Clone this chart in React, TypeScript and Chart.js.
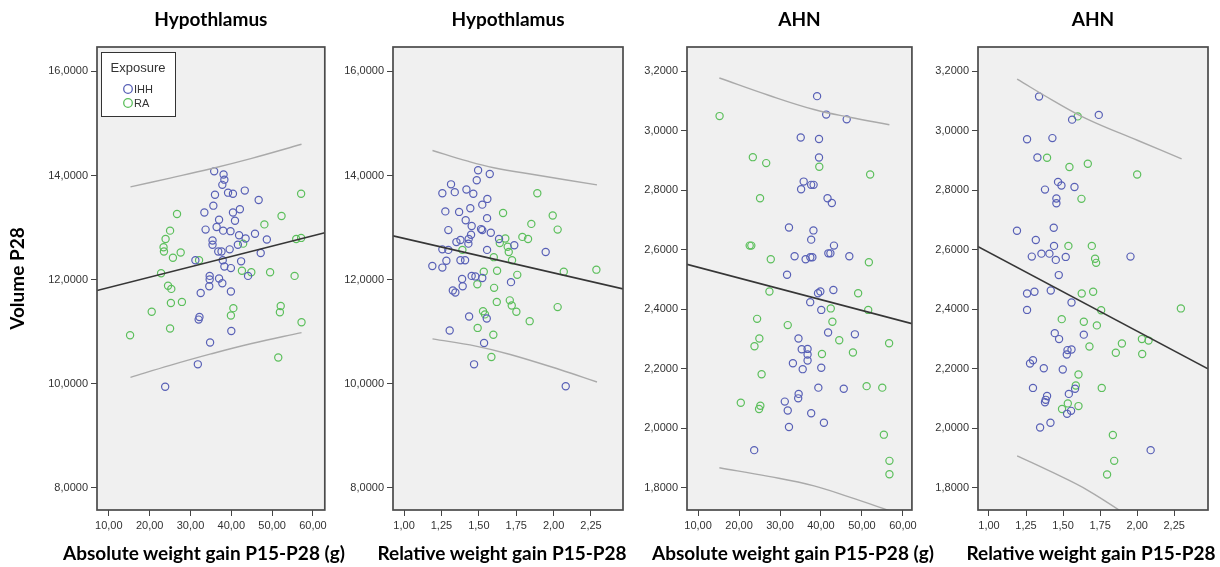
import React, { useEffect, useRef } from 'react';
import { Chart, registerables } from 'chart.js';

Chart.register(...registerables);

type Pt = [number, number];

// ---------- Tick labels ----------
const hypYTicks = [8, 10, 12, 14, 16];
const ahnYTicks = [1.8, 2.0, 2.2, 2.4, 2.6, 2.8, 3.0, 3.2];
const absXTicks = [10, 20, 30, 40, 50, 60];
const relXTicks = [1.0, 1.25, 1.5, 1.75, 2.0, 2.25];

const groupLabels = ['IHH', 'RA'];

// ---------- Panel 1: Hypothlamus vs absolute weight gain ----------
const hypAbsIHH: Pt[] = [
  [35.8, 14.08], [38.1, 14.02], [38.3, 13.92], [37.8, 13.82], [36.0, 13.63], [39.2, 13.67], [40.4, 13.65],
  [43.3, 13.71], [46.7, 13.53], [35.6, 13.42], [33.4, 13.29], [40.4, 13.29], [42.1, 13.35], [37.0, 13.15],
  [40.9, 13.13], [33.7, 12.96], [36.4, 13.01], [38.0, 12.94], [39.8, 12.93], [41.9, 12.85], [43.5, 12.79],
  [45.8, 12.88], [48.7, 12.77], [35.4, 12.75], [35.4, 12.67], [36.8, 12.54], [37.6, 12.54], [39.6, 12.58],
  [41.6, 12.67], [47.2, 12.51], [31.2, 12.37], [37.9, 12.37], [42.4, 12.35], [38.3, 12.25], [39.9, 12.22],
  [44.1, 12.07], [34.7, 12.07], [34.7, 12.0], [37.0, 12.02], [37.8, 11.93], [34.6, 11.87], [32.5, 11.74],
  [39.9, 11.77], [32.2, 11.28], [32.0, 11.23], [40.0, 11.01], [34.8, 10.79], [31.8, 10.37], [23.8, 9.94],
];
const hypAbsRA: Pt[] = [
  [57.1, 13.65], [26.7, 13.26], [52.3, 13.22], [48.1, 13.06], [25.0, 12.94], [23.9, 12.78], [23.4, 12.62],
  [23.5, 12.54], [27.6, 12.52], [25.7, 12.42], [42.9, 12.69], [55.9, 12.78], [57.1, 12.80], [32.1, 12.37],
  [22.8, 12.12], [42.6, 12.17], [44.9, 12.14], [49.5, 12.14], [55.5, 12.07], [24.5, 11.88], [25.3, 11.82],
  [25.2, 11.55], [27.9, 11.57], [20.5, 11.38], [40.5, 11.45], [39.9, 11.31], [52.1, 11.49], [51.9, 11.37],
  [57.2, 11.18], [25.0, 11.06], [15.2, 10.93], [51.5, 10.50],
];
const hypAbsFit: Pt[] = [[7.1, 11.79], [62.9, 12.90]];
const hypAbsUpper: Pt[] = [[15.3, 13.78], [25, 13.95], [35, 14.13], [45, 14.33], [57.2, 14.60]];
const hypAbsLower: Pt[] = [[15.3, 10.12], [25, 10.35], [35, 10.57], [45, 10.77], [57.2, 10.98]];

// ---------- Panel 2: Hypothlamus vs relative weight gain ----------
const hypRelIHH: Pt[] = [
  [1.495, 14.10], [1.573, 14.03], [1.486, 13.91], [1.314, 13.83], [1.256, 13.66], [1.339, 13.68], [1.417, 13.73],
  [1.463, 13.65], [1.557, 13.55], [1.523, 13.44], [1.276, 13.31], [1.368, 13.30], [1.443, 13.37], [1.555, 13.18],
  [1.412, 13.14], [1.452, 13.03], [1.515, 12.97], [1.523, 12.95], [1.580, 12.90], [1.296, 12.95], [1.448, 12.86],
  [1.432, 12.78], [1.377, 12.76], [1.350, 12.72], [1.430, 12.69], [1.635, 12.78], [1.737, 12.66], [1.256, 12.58],
  [1.296, 12.57], [1.555, 12.57], [1.947, 12.53], [1.283, 12.36], [1.377, 12.37], [1.408, 12.37], [1.189, 12.26],
  [1.256, 12.23], [1.452, 12.07], [1.477, 12.06], [1.523, 12.03], [1.388, 12.01], [1.715, 11.95], [1.392, 11.87],
  [1.326, 11.79], [1.343, 11.75], [1.435, 11.29], [1.553, 11.25], [1.305, 11.02], [1.535, 10.78], [1.468, 10.37],
  [2.081, 9.95],
];
const hypRelRA: Pt[] = [
  [1.891, 13.66], [1.662, 13.28], [1.994, 13.23], [1.851, 13.07], [2.027, 12.96], [1.791, 12.82], [1.829, 12.78],
  [1.677, 12.79], [1.640, 12.70], [1.693, 12.63], [1.700, 12.53], [1.390, 12.57], [1.600, 12.43], [1.722, 12.37],
  [1.533, 12.15], [1.622, 12.17], [1.757, 12.09], [2.068, 12.15], [2.286, 12.19], [1.490, 11.91], [1.602, 11.84],
  [1.620, 11.57], [1.707, 11.60], [1.720, 11.50], [1.751, 11.38], [2.027, 11.47], [1.528, 11.39], [1.541, 11.33],
  [1.840, 11.20], [1.492, 11.07], [1.597, 10.94], [1.584, 10.51],
];
const hypRelFit: Pt[] = [[0.926, 12.84], [2.464, 11.82]];
const hypRelUpper: Pt[] = [[1.19, 14.48], [1.42, 14.28], [1.6, 14.15], [1.885, 14.01], [2.29, 13.82]];
const hypRelLower: Pt[] = [[1.19, 10.86], [1.48, 10.72], [1.71, 10.56], [2.04, 10.27], [2.29, 10.03]];

// ---------- Panel 3: AHN vs absolute weight gain ----------
const ahnAbsIHH: Pt[] = [
  [39.05, 3.116], [41.27, 3.054], [46.28, 3.038], [35.06, 2.977], [39.52, 2.972], [39.52, 2.910], [35.78, 2.829],
  [37.6, 2.818], [38.2, 2.818], [35.15, 2.803], [41.6, 2.773], [42.65, 2.757], [32.19, 2.675], [38.16, 2.665],
  [37.61, 2.634], [43.17, 2.614], [33.56, 2.578], [36.25, 2.568], [37.4, 2.575], [37.9, 2.575], [41.8, 2.588],
  [42.3, 2.588], [46.92, 2.578], [31.72, 2.516], [43.03, 2.465], [39.84, 2.460], [39.28, 2.454], [37.37, 2.424],
  [40.07, 2.398], [41.74, 2.322], [48.28, 2.316], [34.51, 2.302], [35.3, 2.266], [36.73, 2.267], [36.73, 2.248],
  [36.73, 2.228], [33.15, 2.219], [35.54, 2.199], [40.07, 2.204], [39.36, 2.137], [45.56, 2.133], [34.55, 2.116],
  [34.44, 2.101], [31.17, 2.090], [31.89, 2.060], [37.61, 2.051], [40.72, 2.019], [32.19, 2.005], [23.7, 1.927],
];
const ahnAbsRA: Pt[] = [
  [15.25, 3.049], [23.37, 2.911], [26.63, 2.891], [39.59, 2.879], [52.0, 2.853], [25.13, 2.773], [22.6, 2.614],
  [23.0, 2.614], [27.75, 2.568], [51.69, 2.558], [27.42, 2.460], [49.07, 2.454], [42.39, 2.403], [51.53, 2.398],
  [24.41, 2.368], [42.79, 2.358], [31.89, 2.347], [24.96, 2.302], [23.77, 2.276], [44.46, 2.296], [56.63, 2.286],
  [40.24, 2.250], [47.8, 2.255], [25.51, 2.182], [51.14, 2.142], [54.96, 2.137], [20.43, 2.086], [25.2, 2.076],
  [24.89, 2.065], [55.35, 1.979], [56.71, 1.891], [56.71, 1.846],
];
const ahnAbsFit: Pt[] = [[7.3, 2.551], [62.2, 2.352]];
const ahnAbsUpper: Pt[] = [[15.2, 3.177], [27.2, 3.119], [38.3, 3.071], [47, 3.045], [56.7, 3.020]];
const ahnAbsLower: Pt[] = [[15.2, 1.868], [27.2, 1.839], [38.3, 1.807], [47, 1.769], [56.7, 1.724]];

// ---------- Panel 4: AHN vs relative weight gain ----------
const ahnRelIHH: Pt[] = [
  [1.338, 3.115], [1.561, 3.037], [1.741, 3.053], [1.257, 2.971], [1.428, 2.975], [1.327, 2.910], [1.466, 2.828],
  [1.489, 2.816], [1.577, 2.811], [1.378, 2.802], [1.455, 2.772], [1.455, 2.756], [1.189, 2.664], [1.437, 2.674],
  [1.316, 2.633], [1.439, 2.613], [1.289, 2.577], [1.354, 2.587], [1.408, 2.587], [1.451, 2.566], [1.518, 2.576],
  [1.955, 2.577], [1.471, 2.515], [1.257, 2.453], [1.307, 2.459], [1.417, 2.463], [1.557, 2.423], [1.257, 2.398],
  [1.444, 2.320], [1.473, 2.300], [1.640, 2.315], [1.530, 2.263], [1.557, 2.265], [1.525, 2.248], [1.297, 2.229],
  [1.277, 2.218], [1.370, 2.202], [1.498, 2.198], [1.297, 2.136], [1.539, 2.116], [1.581, 2.133], [1.392, 2.109],
  [1.383, 2.096], [1.378, 2.088], [1.554, 2.059], [1.527, 2.049], [1.415, 2.019], [1.345, 2.003], [2.091, 1.927],
];
const ahnRelRA: Pt[] = [
  [1.599, 3.048], [1.392, 2.909], [1.543, 2.878], [1.667, 2.889], [2.0, 2.853], [1.624, 2.771], [1.536, 2.613],
  [1.694, 2.613], [1.716, 2.570], [1.723, 2.556], [1.626, 2.453], [1.703, 2.459], [1.757, 2.397], [2.295, 2.403],
  [1.491, 2.367], [1.640, 2.358], [1.728, 2.346], [2.032, 2.300], [2.077, 2.295], [1.897, 2.285], [1.678, 2.275],
  [1.856, 2.254], [2.034, 2.250], [1.604, 2.181], [1.761, 2.136], [1.586, 2.144], [1.532, 2.084], [1.604, 2.075],
  [1.493, 2.065], [1.836, 1.978], [1.845, 1.891], [1.797, 1.845],
];
const ahnRelFit: Pt[] = [[0.924, 2.611], [2.478, 2.200]];
const ahnRelUpper: Pt[] = [[1.19, 3.173], [1.43, 3.102], [1.667, 3.038], [2.005, 2.967], [2.30, 2.905]];
const ahnRelLower: Pt[] = [[1.19, 1.908], [1.43, 1.852], [1.667, 1.792], [2.0, 1.686], [2.3, 1.59]];

// ---------- Styles / layout ----------
const IHH_COLOR = '#5860b6';
const RA_COLOR = '#5cbf5c';
const FIT_COLOR = '#363636';
const BAND_COLOR = '#aaaaaa';
const PLOT_BG = '#f0f0f0';
const FRAME_COLOR = '#4a4a4a';
const CANVAS_H = 567;
const TITLE_FONT = 'Lato, "Open Sans", sans-serif';

interface Panel {
  title: string;
  xTitle: string;
  yTitle?: string;
  ihh: Pt[];
  ra: Pt[];
  fit: Pt[];
  upper: Pt[];
  lower: Pt[];
  xMin: number;
  xMax: number;
  yMin: number;
  yMax: number;
  xTicks: number[];
  yTicks: number[];
  xDec: number;
  left: number;
  width: number;
  yAxisWidth: number;
  padRight: number;
  legend: boolean;
  captionCenter: number;
}

const PANELS: Panel[] = [
  {
    title: 'Hypothlamus', xTitle: 'Absolute weight gain P15-P28 (g)', yTitle: 'Volume P28',
    ihh: hypAbsIHH, ra: hypAbsRA, fit: hypAbsFit, upper: hypAbsUpper, lower: hypAbsLower,
    xMin: 7.1, xMax: 62.9, yMin: 7.57, yMax: 16.47, xTicks: absXTicks, yTicks: hypYTicks, xDec: 2,
    left: 0, width: 330, yAxisWidth: 97, padRight: 2, legend: true, captionCenter: 204,
  },
  {
    title: 'Hypothlamus', xTitle: 'Relative weight gain P15-P28',
    ihh: hypRelIHH, ra: hypRelRA, fit: hypRelFit, upper: hypRelUpper, lower: hypRelLower,
    xMin: 0.926, xMax: 2.464, yMin: 7.57, yMax: 16.47, xTicks: relXTicks, yTicks: hypYTicks, xDec: 2,
    left: 330, width: 300, yAxisWidth: 63, padRight: 7, legend: false, captionCenter: 502,
  },
  {
    title: 'AHN', xTitle: 'Absolute weight gain P15-P28 (g)',
    ihh: ahnAbsIHH, ra: ahnAbsRA, fit: ahnAbsFit, upper: ahnAbsUpper, lower: ahnAbsLower,
    xMin: 7.3, xMax: 62.2, yMin: 1.726, yMax: 3.281, xTicks: absXTicks, yTicks: ahnYTicks, xDec: 2,
    left: 630, width: 290, yAxisWidth: 57, padRight: 3, legend: false, captionCenter: 793,
  },
  {
    title: 'AHN', xTitle: 'Relative weight gain P15-P28',
    ihh: ahnRelIHH, ra: ahnRelRA, fit: ahnRelFit, upper: ahnRelUpper, lower: ahnRelLower,
    xMin: 0.926, xMax: 2.478, yMin: 1.726, yMax: 3.281, xTicks: relXTicks, yTicks: ahnYTicks, xDec: 2,
    left: 920, width: 300, yAxisWidth: 58, padRight: 12, legend: false, captionCenter: 1091,
  },
];

const toXY = (pts: Pt[]) => pts.map(([x, y]) => ({ x, y }));

const framePlugin = {
  id: 'plotFrame',
  beforeDraw(chart: any) {
    const { ctx, chartArea: a } = chart;
    ctx.save();
    ctx.fillStyle = PLOT_BG;
    ctx.fillRect(a.left, a.top, a.right - a.left, a.bottom - a.top);
    ctx.restore();
  },
  afterDatasetsDraw(chart: any) {
    const { ctx, chartArea: a } = chart;
    ctx.save();
    ctx.strokeStyle = FRAME_COLOR;
    ctx.lineWidth = 1.7;
    ctx.strokeRect(a.left, a.top, a.right - a.left, a.bottom - a.top);
    ctx.restore();
  },
};

const insetLegendPlugin = {
  id: 'insetLegend',
  afterDraw(chart: any, _args: any, opts: any) {
    if (!opts || !opts.display) return;
    const { ctx, chartArea: a } = chart;
    const items = chart.data.datasets.filter((d: any) => d.legendEntry);
    const x = a.left + 4;
    const y = a.top + 5;
    const w = 74;
    const h = 64;
    ctx.save();
    ctx.fillStyle = '#ffffff';
    ctx.fillRect(x, y, w, h);
    ctx.strokeStyle = '#333';
    ctx.lineWidth = 1;
    ctx.strokeRect(x + 0.5, y + 0.5, w, h);
    ctx.fillStyle = '#333';
    ctx.font = '13px "Liberation Sans", Arial, sans-serif';
    ctx.textAlign = 'center';
    ctx.textBaseline = 'middle';
    ctx.fillText(opts.title, x + w / 2, y + 16);
    ctx.font = '11px "Liberation Sans", Arial, sans-serif';
    ctx.textAlign = 'left';
    items.forEach((d: any, i: number) => {
      const cy = y + 37 + i * 14;
      ctx.beginPath();
      ctx.arc(x + 27, cy, 4.3, 0, Math.PI * 2);
      ctx.strokeStyle = d.borderColor;
      ctx.lineWidth = 1.3;
      ctx.stroke();
      ctx.fillStyle = '#333';
      ctx.fillText(d.label, x + 33, cy + 0.5);
    });
    ctx.restore();
  },
};

function PanelChart({ panel }: { panel: Panel }) {
  const ref = useRef<HTMLCanvasElement | null>(null);

  useEffect(() => {
    if (!ref.current) return;
    const p = panel;
    const lineDs = (label: string, pts: Pt[], color: string, width: number, tension: number) => ({
      type: 'scatter' as const,
      label,
      data: toXY(pts),
      showLine: true,
      borderColor: color,
      borderWidth: width,
      pointRadius: 0,
      tension,
      fill: false,
    });
    const pointDs = (label: string, pts: Pt[], color: string) => ({
      type: 'scatter' as const,
      label,
      data: toXY(pts),
      legendEntry: true,
      showLine: false,
      borderColor: color,
      backgroundColor: 'rgba(0,0,0,0)',
      pointBackgroundColor: 'rgba(0,0,0,0)',
      pointBorderColor: color,
      pointRadius: 3.6,
      pointBorderWidth: 1.2,
    });

    const tickFont = { family: '"Liberation Sans", Arial, sans-serif', size: 11 };

    const chart = new Chart(ref.current, {
      type: 'scatter',
      data: {
        datasets: [
          lineDs('Fit', p.fit, FIT_COLOR, 1.6, 0),
          lineDs('Upper', p.upper, BAND_COLOR, 1.4, 0.4),
          lineDs('Lower', p.lower, BAND_COLOR, 1.4, 0.4),
          pointDs(groupLabels[0], p.ihh, IHH_COLOR),
          pointDs(groupLabels[1], p.ra, RA_COLOR),
        ] as any,
      },
      options: {
        animation: false,
        responsive: false,
        devicePixelRatio: 1,
        events: [],
        layout: { padding: { left: 0, right: p.padRight, top: 0, bottom: 0 } },
        plugins: {
          legend: { display: false },
          tooltip: { enabled: false },
          title: {
            display: true,
            text: p.title,
            fullSize: false,
            color: '#000',
            font: { family: TITLE_FONT, size: 19, weight: 'bold', lineHeight: 1.2 },
            padding: { top: 8.6, bottom: 15.6 },
          },
          insetLegend: { display: p.legend, title: 'Exposure' },
        } as any,
        scales: {
          x: {
            type: 'linear',
            min: p.xMin,
            max: p.xMax,
            afterBuildTicks: (s: any) => {
              s.ticks = p.xTicks.map((v) => ({ value: v }));
            },
            afterFit: (s: any) => {
              s.height = 57;
            },
            ticks: {
              autoSkip: false,
              maxRotation: 0,
              padding: 3,
              color: '#333',
              font: tickFont,
              callback: (v: any) => Number(v).toFixed(p.xDec).replace('.', ','),
            },
            grid: { display: true, drawOnChartArea: false, drawTicks: true, tickLength: 6, color: '#444', lineWidth: 1 },
            border: { display: false },
            title: { display: false },
          },
          y: {
            type: 'linear',
            min: p.yMin,
            max: p.yMax,
            afterBuildTicks: (s: any) => {
              s.ticks = p.yTicks.map((v) => ({ value: v }));
            },
            afterFit: (s: any) => {
              s.width = p.yAxisWidth;
            },
            ticks: {
              autoSkip: false,
              padding: 3,
              color: '#333',
              font: tickFont,
              callback: (v: any) => Number(v).toFixed(4).replace('.', ','),
            },
            grid: { display: true, drawOnChartArea: false, drawTicks: true, tickLength: 6, color: '#444', lineWidth: 1 },
            border: { display: false },
            title: {
              display: !!p.yTitle,
              text: p.yTitle || '',
              color: '#000',
              font: { family: TITLE_FONT, size: 19, weight: 'bold', lineHeight: 1.2 },
              padding: { top: 6.6, bottom: 0 },
            },
          },
        },
      } as any,
      plugins: [framePlugin, insetLegendPlugin],
    });
    return () => chart.destroy();
  }, [panel]);

  return (
    <>
      <canvas
        ref={ref}
        width={panel.width}
        height={CANVAS_H}
        style={{ position: 'absolute', left: panel.left, top: 0, width: panel.width, height: CANVAS_H }}
      />
      <div
        style={{
          position: 'absolute',
          left: panel.captionCenter - 200,
          width: 400,
          top: 541,
          height: 24,
          lineHeight: '24px',
          textAlign: 'center',
          whiteSpace: 'nowrap',
          fontFamily: TITLE_FONT,
          fontWeight: 'bold',
          fontSize: 19,
          color: '#000',
        }}
      >
        {panel.xTitle}
      </div>
    </>
  );
}

export default function App() {
  return (
    <div
      style={{
        position: 'absolute',
        left: 0,
        top: 0,
        width: 1220,
        height: CANVAS_H,
        background: '#ffffff',
        overflow: 'hidden',
      }}
    >
      {PANELS.map((p, i) => (
        <PanelChart key={i} panel={p} />
      ))}
    </div>
  );
}
